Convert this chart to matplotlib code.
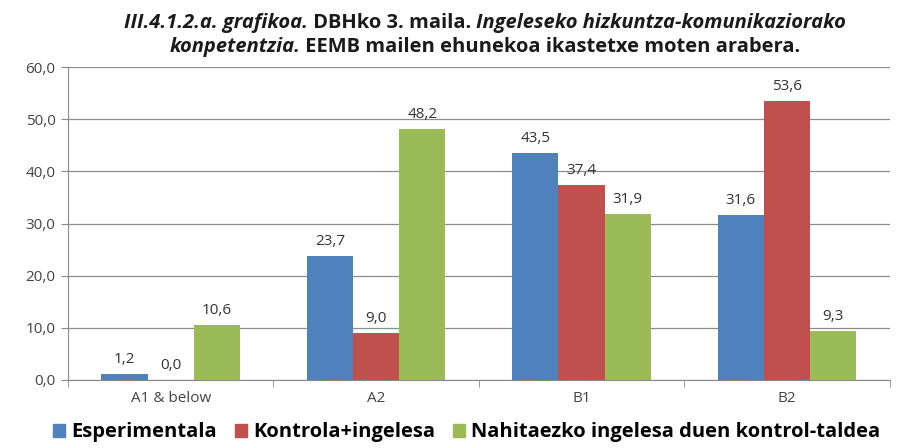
import numpy as np
import matplotlib
matplotlib.use('Agg')
from matplotlib import pyplot as plt
from matplotlib.patches import Patch

plt.rcParams['font.family'] = ['Open Sans', 'DejaVu Sans']

categories = ['A1 & below', 'A2', 'B1', 'B2']
series_names = ['Esperimentala', 'Kontrola+ingelesa', 'Nahitaezko ingelesa duen kontrol-taldea']
esperimentala = [1.2, 23.7, 43.5, 31.6]
kontrola = [0.0, 9.0, 37.4, 53.6]
nahitaezkoa = [10.6, 48.2, 31.9, 9.3]
colors = ['#4F81BD', '#C0504D', '#9BBB59']

fig = plt.figure(figsize=(9.01, 4.48), dpi=100)
ax = fig.add_axes([0.0755, 0.152, 0.912, 0.698])

x = np.arange(len(categories))
w = 0.225
for i, (vals, col) in enumerate(zip([esperimentala, kontrola, nahitaezkoa], colors)):
    pos = x + (i - 1) * w
    ax.bar(pos, vals, width=w, color=col, zorder=3)
    for p, v in zip(pos, vals):
        ax.annotate(f'{v:.1f}'.replace('.', ','), (p, v), xytext=(0, 5), textcoords='offset points',
                    ha='center', va='bottom', fontsize=11, color='#333333')

ax.set_xlim(-0.5, 3.5)
ax.set_ylim(0, 60)
ax.set_yticks(np.arange(0, 61, 10))
ax.set_yticklabels([f'{v:.1f}'.replace('.', ',') for v in np.arange(0, 61, 10)], fontsize=11, color='#444444')
ax.set_xticks(x)
ax.set_xticklabels(categories, fontsize=11, color='#444444')
ax.set_xticks(np.arange(-0.5, 3.6, 1), minor=True)
ax.tick_params(axis='x', which='major', length=0, pad=8)
ax.tick_params(axis='x', which='minor', length=5, color='#888888')
ax.tick_params(axis='y', length=5, color='#888888', pad=4)
ax.grid(axis='y', color='#8c8c8c', linewidth=0.9, zorder=0)
for s in ['top', 'right']:
    ax.spines[s].set_visible(False)
for s in ['left', 'bottom']:
    ax.spines[s].set_color('#888888')

# title with mixed styles, pieces placed one after another
lines = [
    [('III.4.1.2.a. grafikoa.', 'italic'), (' DBHko 3. maila. ', 'normal'),
     ('Ingeleseko hizkuntza-komunikaziorako', 'italic')],
    [('konpetentzia.', 'italic'), (' EEMB mailen ehunekoa ikastetxe moten arabera.', 'normal')],
]
fig.canvas.draw()
renderer = fig.canvas.get_renderer()
center_px = 485
for li, parts in enumerate(lines):
    y = 0.948 - li * 0.052
    texts = []
    for s, st in parts:
        t = fig.text(0, y, s, fontsize=14.5, fontweight='bold', fontstyle=st, va='center', color='#1a1a1a')
        texts.append(t)
    widths = [t.get_window_extent(renderer).width for t in texts]
    xpix = center_px - sum(widths) / 2
    for t, wd in zip(texts, widths):
        t.set_x(xpix / fig.bbox.width)
        xpix += wd

handles = [Patch(color=c) for c in colors]
fig.legend(handles, series_names, loc='center', bbox_to_anchor=(0.518, 0.035), ncol=3, frameon=False,
           handlelength=0.6, handleheight=0.6, handletextpad=0.3, columnspacing=0.9,
           prop={'size': 14.5, 'weight': 'bold'})

fig.savefig('out.png', dpi=100)
